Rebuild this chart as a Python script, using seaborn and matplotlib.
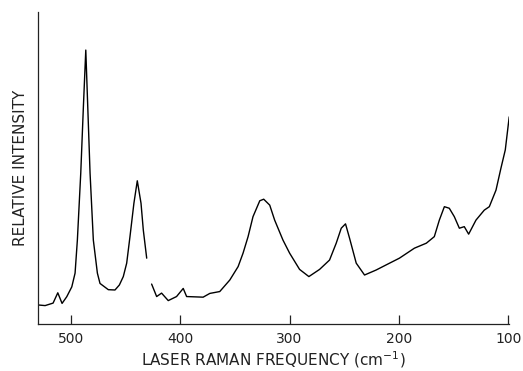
import matplotlib
matplotlib.use("Agg")
import matplotlib.pyplot as plt
import seaborn as sns
import pandas as pd

# Raman shift (cm^-1) and relative intensity, segment 1 (before the gap)
freq_a = [529.8, 523.5, 516.2, 511.9, 508.0, 503.7, 499.1, 496.1, 494.0, 490.9,
          488.5, 486.3, 484.5, 482.4, 479.4, 475.7, 473.3, 465.7, 459.6, 455.6,
          452.0, 448.9, 445.9, 442.3, 439.2, 435.8, 433.7, 430.6]
inten_a = [6.1, 5.9, 6.7, 10.0, 6.6, 8.75, 11.9, 16.3, 26.9, 48.4,
           69.6, 87.8, 69.6, 48.4, 26.9, 16.3, 13.0, 11.0, 10.9, 12.5,
           15.2, 19.5, 28.0, 38.7, 45.9, 38.7, 30.1, 21.1]

# segment 2 (after the gap)
freq_b = [426.1, 421.5, 417.0, 410.9, 403.3, 397.2, 394.1, 379.0, 372.9, 363.8,
          354.6, 347.0, 342.5, 337.9, 333.4, 327.2, 323.6, 318.1, 313.6, 306.0,
          299.9, 290.8, 282.3, 272.5, 263.4, 257.3, 252.7, 248.8, 245.1, 239.0,
          231.4, 220.8, 210.2, 199.5, 185.8, 174.9, 167.6, 163.0, 158.4, 153.9,
          149.3, 144.7, 140.2, 136.2, 129.5, 121.9, 117.3, 111.2, 106.7, 102.7,
          99.1]
inten_b = [12.8, 8.8, 9.9, 7.5, 8.8, 11.4, 8.8, 8.6, 9.8, 10.4,
           14.1, 18.4, 22.7, 28.0, 34.4, 39.5, 40.0, 38.1, 33.3, 26.9,
           22.7, 17.5, 15.2, 17.5, 20.5, 25.9, 30.7, 32.1, 27.5, 19.5,
           15.7, 17.3, 19.2, 21.1, 24.3, 25.9, 28.0, 33.3, 37.6, 37.1,
           34.4, 30.7, 31.2, 28.8, 33.3, 36.5, 37.6, 42.9, 49.9, 55.8,
           66.4]

tick_vals = [500, 400, 300, 200, 100]
tick_labels = ["500", "400", "300", "200", "100"]

sns.set_theme(style="white")
plt.rcParams['font.family'] = ['DejaVu Sans']

fig = plt.figure(figsize=(5.23, 3.71), dpi=100)
ax = fig.add_axes([38/523, 1-324/371, (509-38)/523, (324-12)/371])

df_a = pd.DataFrame({"freq": freq_a, "inten": inten_a})
df_b = pd.DataFrame({"freq": freq_b, "inten": inten_b})
sns.lineplot(data=df_a, x="freq", y="inten", sort=False, color="black", lw=1.0, ax=ax)
sns.lineplot(data=df_b, x="freq", y="inten", sort=False, color="black", lw=1.0, ax=ax)

ax.set_xlim(530, 99.3)
ax.set_ylim(0, 100)
ax.set_xticks(tick_vals)
ax.set_xticklabels(tick_labels)
ax.set_yticks([])
for s in ["top", "right"]:
    ax.spines[s].set_visible(False)
for s in ["left", "bottom"]:
    ax.spines[s].set_color("#222222")
    ax.spines[s].set_linewidth(0.9)
ax.tick_params(axis="x", direction="in", length=6.5, width=0.9, color="#222222",
               pad=6, labelsize=10, bottom=True)
ax.set_xlabel("LASER RAMAN FREQUENCY (cm$^{-1}$)", fontsize=11, labelpad=2, color="#222222")
ax.set_ylabel("RELATIVE INTENSITY", fontsize=11, labelpad=7, color="#222222")
for t in ax.get_xticklabels():
    t.set_color("#222222")

fig.savefig("out.png", dpi=100, facecolor="white")
